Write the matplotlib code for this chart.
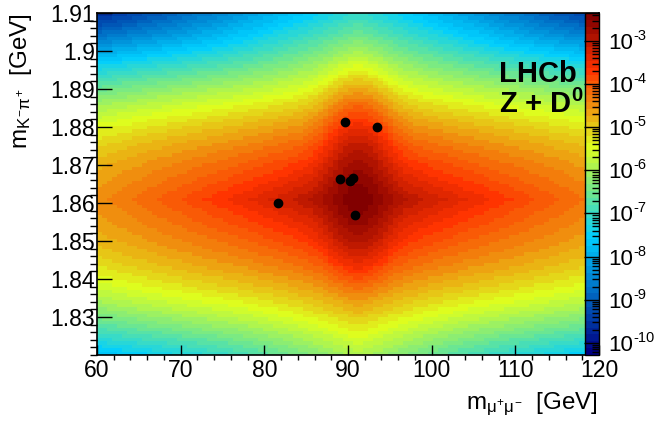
import numpy as np
import matplotlib
matplotlib.use("Agg")
import matplotlib.pyplot as plt
from matplotlib.colors import LinearSegmentedColormap, ListedColormap, LogNorm
from matplotlib.ticker import MultipleLocator, LogLocator, NullFormatter, FixedLocator, FuncFormatter

# ---------------- data: the seven Z + D0 candidates ----------------
cand_mmumu = [89.6, 93.5, 89.0, 90.6, 90.2, 81.6, 90.8]
cand_mkpi = [1.8814, 1.8801, 1.8663, 1.8667, 1.8658, 1.8601, 1.8568]

# ---------------- PDF model parameters ----------------
x_range = [60.0, 120.0]
y_range = [1.82, 1.91]
n_bins = [100, 100]
mz_peak = 91.2
md_peak = 1.861
# broad diamond-shaped component
core_log10 = -2.68
core_scale_x = 30.0
core_scale_y = [0.0288, 0.0261]      # below / above the D0 peak
core_k = 2.2
core_power = 1.1
# narrow Z peak x D0 peak component
peak_log10 = -2.65
peak_sigma_x = 2.07
peak_sigma_y = [0.0075, 0.009]
# component broad in m(mumu), Gaussian in m(Kpi)
band_log10 = -4.0
band_curv = 0.6
band_sigma = [0.0107, 0.0097]
z_range = [5.2e-11, 4.5e-3]

x_ticks = [60, 70, 80, 90, 100, 110, 120]
y_ticks = [1.83, 1.84, 1.85, 1.86, 1.87, 1.88, 1.89, 1.90, 1.91]
z_decades = [-10, -9, -8, -7, -6, -5, -4, -3]

# ---------------- style ----------------
plt.rcParams["font.family"] = ["Liberation Sans", "DejaVu Sans"]
plt.rcParams["mathtext.fontset"] = "custom"
plt.rcParams["mathtext.rm"] = "Liberation Sans"
plt.rcParams["mathtext.it"] = "Liberation Sans"
plt.rcParams["mathtext.bf"] = "Liberation Sans:bold"

# ROOT "pretty palette" (SetPalette(1)), 50 discrete colours
stops = [0.00, 0.34, 0.61, 0.84, 1.00]
reds = [0.00, 0.00, 0.87, 1.00, 0.51]
greens = [0.00, 0.81, 1.00, 0.20, 0.00]
blues = [0.51, 1.00, 0.12, 0.00, 0.00]
grad = LinearSegmentedColormap.from_list(
    "root", [(s, (r, g, b)) for s, r, g, b in zip(stops, reds, greens, blues)])
cmap = ListedColormap(grad(np.linspace(0, 1, 50)))

W, H = 659, 422
fig = plt.figure(figsize=(W / 100, H / 100), dpi=100)
L, R, T, B = 97, 599, 13, 355
ax = fig.add_axes([L / W, 1 - B / H, (R - L) / W, (B - T) / H])

xe = np.linspace(x_range[0], x_range[1], n_bins[0] + 1)
ye = np.linspace(y_range[0], y_range[1], n_bins[1] + 1)
xc = 0.5 * (xe[1:] + xe[:-1])
yc = 0.5 * (ye[1:] + ye[:-1])
DX, DY = np.meshgrid(xc - mz_peak, yc - md_peak)
ln10 = np.log(10)
sy = np.where(DY < 0, core_scale_y[0], core_scale_y[1])
r = np.abs(DX) / core_scale_x + np.abs(DY) / sy
log_core = core_log10 - core_k * r ** core_power
psy = np.where(DY < 0, peak_sigma_y[0], peak_sigma_y[1])
log_peak = peak_log10 - (DX ** 2 / (2 * peak_sigma_x ** 2) + DY ** 2 / (2 * psy ** 2)) / ln10
bs = np.where(DY < 0, band_sigma[0], band_sigma[1])
log_band = band_log10 - band_curv * (DX / core_scale_x) ** 2 - DY ** 2 / (2 * bs ** 2) / ln10
Z = 10 ** log_core + 10 ** log_peak + 10 ** log_band

norm = LogNorm(vmin=z_range[0], vmax=z_range[1])
mesh = ax.pcolormesh(xe, ye, Z, cmap=cmap, norm=norm, shading="flat",
                     edgecolors="none", antialiased=False)

ax.plot(cand_mmumu, cand_mkpi, "o", color="black", ms=6, zorder=5)

ax.set_xlim(*x_range)
ax.set_ylim(*y_range)
ax.xaxis.set_major_locator(FixedLocator(x_ticks))
ax.xaxis.set_minor_locator(MultipleLocator(2))
ax.yaxis.set_major_locator(FixedLocator(y_ticks))
ax.yaxis.set_minor_locator(MultipleLocator(0.002))
ax.xaxis.set_major_formatter(FuncFormatter(lambda v, p: "%d" % round(v)))
ax.yaxis.set_major_formatter(FuncFormatter(lambda v, p: ("%.2f" % v).rstrip("0")))
ax.tick_params(direction="in", top=False, right=False, labelsize=16.6, width=1.0)
ax.tick_params(axis="x", which="major", length=7.2, pad=3)
ax.tick_params(axis="x", which="minor", length=3.6, width=1.0)
ax.tick_params(axis="y", which="major", length=10.8, pad=1.5)
ax.tick_params(axis="y", which="minor", length=5.4, width=1.0)
for s in ax.spines.values():
    s.set_linewidth(1.2)

# colour bar (drawn over the right part of the frame, as in ROOT)
cax = fig.add_axes([585 / W, 1 - B / H, (R - 585) / W, (B - T) / H])
cb = fig.colorbar(mesh, cax=cax)
cb.outline.set_linewidth(1.0)
cax.yaxis.set_ticks_position("right")
cax.yaxis.set_major_locator(FixedLocator([10.0 ** d for d in z_decades]))
cax.yaxis.set_minor_locator(LogLocator(base=10, subs=np.arange(2, 10), numticks=20))
cax.yaxis.set_minor_formatter(NullFormatter())
cax.tick_params(which="major", direction="in", length=10.8, width=1.0, labelright=False)
cax.tick_params(which="minor", direction="in", length=5.0, width=1.0)
ytr = cax.get_yaxis_transform()
for d in z_decades:
    cax.annotate("10", xy=(1, 10.0 ** d), xycoords=ytr, xytext=(9, -8),
                 textcoords="offset pixels", fontsize=16, ha="left", va="baseline",
                 annotation_clip=False)
    cax.annotate("-%d" % (-d), xy=(1, 10.0 ** d), xycoords=ytr, xytext=(34.5, 1),
                 textcoords="offset pixels", fontsize=10.5, ha="left", va="baseline",
                 annotation_clip=False)

# axis titles
fig.text(598 / W, 1 - 409 / H, r"$m_{\mu^{+}\mu^{-}}$  [GeV]", ha="right",
         va="baseline", fontsize=17.4)
fig.text(27 / W, 1 - 13 / H, r"$m_{K^{-}\pi^{+}}$  [GeV]", ha="right",
         va="baseline", rotation=90, fontsize=17.4, rotation_mode="anchor")

fig.text(499 / W, 1 - 82 / H, "LHCb", fontsize=21, fontweight="bold",
         ha="left", va="baseline")
fig.text(499 / W, 1 - 113 / H, r"Z + D$^{\mathbf{0}}$", fontsize=21, fontweight="bold",
         ha="left", va="baseline")

fig.savefig("out.png", dpi=100, facecolor="white")
